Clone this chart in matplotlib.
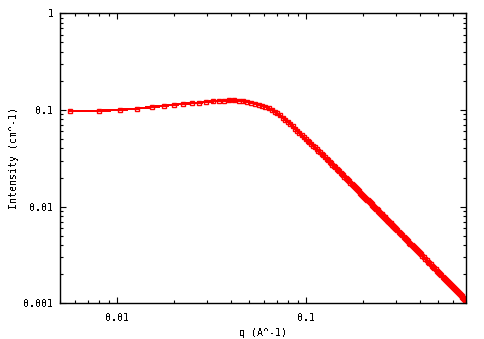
import matplotlib
matplotlib.use("Agg")
import matplotlib.pyplot as plt
from matplotlib.ticker import LogLocator, FuncFormatter, NullFormatter

# scattering curve (q in A^-1, intensity in cm^-1)
q = [
    0.0056, 0.0080, 0.0104, 0.0128, 0.0152, 0.0176, 0.0200, 0.0224, 0.0248, 0.0272,
    0.0296, 0.0320, 0.0344, 0.0368, 0.0392, 0.0416, 0.0440, 0.0464, 0.0488, 0.0512,
    0.0536, 0.0560, 0.0584, 0.0608, 0.0632, 0.0656, 0.0680, 0.0704, 0.0728, 0.0752,
    0.0776, 0.0800, 0.0824, 0.0848, 0.0872, 0.0896, 0.0920, 0.0944, 0.0968, 0.0992,
    0.1016, 0.1040, 0.1064, 0.1088, 0.1112, 0.1136, 0.1160, 0.1184, 0.1208, 0.1232,
    0.1256, 0.1280, 0.1304, 0.1328, 0.1352, 0.1376, 0.1400, 0.1424, 0.1448, 0.1472,
    0.1496, 0.1520, 0.1544, 0.1568, 0.1592, 0.1616, 0.1640, 0.1664, 0.1688, 0.1712,
    0.1736, 0.1760, 0.1784, 0.1808, 0.1832, 0.1856, 0.1880, 0.1904, 0.1928, 0.1952,
    0.1976, 0.2000, 0.2024, 0.2048, 0.2072, 0.2096, 0.2120, 0.2144, 0.2168, 0.2192,
    0.2216, 0.2240, 0.2264, 0.2288, 0.2312, 0.2336, 0.2360, 0.2384, 0.2408, 0.2432,
    0.2456, 0.2480, 0.2504, 0.2528, 0.2552, 0.2576, 0.2600, 0.2624, 0.2648, 0.2672,
    0.2696, 0.2720, 0.2744, 0.2768, 0.2792, 0.2816, 0.2840, 0.2864, 0.2888, 0.2912,
    0.2936, 0.2960, 0.2984,
    0.3032, 0.3080, 0.3128, 0.3176, 0.3224, 0.3272, 0.3320, 0.3368, 0.3416, 0.3464,
    0.3512, 0.3560, 0.3608, 0.3656, 0.3704, 0.3752, 0.3800, 0.3848, 0.3896, 0.3944,
    0.3992, 0.4040,
    0.4112, 0.4184, 0.4256, 0.4328, 0.4400, 0.4472, 0.4544, 0.4616, 0.4688, 0.4760,
    0.4832, 0.4904, 0.4976, 0.5048, 0.5120, 0.5192, 0.5264, 0.5336, 0.5408, 0.5480,
    0.5552, 0.5624, 0.5696, 0.5768, 0.5840, 0.5912, 0.5984, 0.6056, 0.6128, 0.6200,
    0.6272, 0.6344, 0.6416, 0.6488, 0.6560, 0.6632, 0.6704, 0.6776, 0.6848, 0.6920,
    0.6992,
]
intensity = [
    0.0975, 0.0978, 0.1003, 0.1035, 0.1070, 0.1104, 0.1132, 0.1157, 0.1175, 0.1190,
    0.1208, 0.1228, 0.1240, 0.1250, 0.1255, 0.1253, 0.1244, 0.1230, 0.1210, 0.1187,
    0.1157, 0.1130, 0.1104, 0.1073, 0.1040, 0.1002, 0.0962, 0.0920, 0.0877, 0.0834,
    0.0792, 0.0752, 0.0712, 0.0675, 0.0640, 0.0608, 0.0579, 0.0552, 0.0526, 0.0503,
    0.0482, 0.0462, 0.0443, 0.0426, 0.0409, 0.0394, 0.0379, 0.0365, 0.03522, 0.03389,
    0.03263, 0.03144, 0.03031, 0.02924, 0.02823, 0.02727, 0.02635, 0.02548, 0.02466, 0.02387,
    0.02312, 0.02241, 0.02172, 0.02107, 0.02045, 0.01985, 0.01928, 0.01873, 0.01821, 0.01771,
    0.01723, 0.01676, 0.01632, 0.01589, 0.01548, 0.01509, 0.01471, 0.01434, 0.01399, 0.01365,
    0.01332, 0.01301, 0.01270, 0.01241, 0.01213, 0.01185, 0.01159, 0.01133, 0.01108, 0.01084,
    0.01061, 0.01039, 0.01017, 0.00996, 0.00975, 0.00955, 0.00936, 0.00917, 0.00899, 0.00882,
    0.00865, 0.00848, 0.00832, 0.00816, 0.00801, 0.00786, 0.00772, 0.00758, 0.00744, 0.00731,
    0.00718, 0.00706, 0.00693, 0.00681, 0.00670, 0.00658, 0.00647, 0.00637, 0.00626, 0.00616,
    0.00606, 0.00596, 0.00587,
    0.00568, 0.00551, 0.00534, 0.00518, 0.00503, 0.00488, 0.00474, 0.00461, 0.00448, 0.00436,
    0.00424, 0.00413, 0.00402, 0.00391, 0.00381, 0.00371, 0.00362, 0.00353, 0.00345, 0.00336,
    0.00328, 0.00320,
    0.00309, 0.00299, 0.00289, 0.00279, 0.00270, 0.00262, 0.00253, 0.00246, 0.00238, 0.00231,
    0.00224, 0.00218, 0.00211, 0.00205, 0.00200, 0.00194, 0.00189, 0.00184, 0.00179, 0.00174,
    0.00170, 0.00165, 0.00161, 0.00157, 0.00153, 0.00150, 0.00146, 0.00143, 0.00139, 0.00136,
    0.00133, 0.00130, 0.00127, 0.00124, 0.00122, 0.00119, 0.00116, 0.00114, 0.00111, 0.00109,
    0.00107,
]

x_range = (0.005, 0.7)
y_range = (0.001, 1)
x_label = "q (A^-1)"
y_label = "Intensity (cm^-1)"

plt.rcParams["font.family"] = ["DejaVu Sans Mono"]
plt.rcParams["font.size"] = 7.2
plt.rcParams["text.antialiased"] = False

fig = plt.figure(figsize=(4.84, 3.39), dpi=100)
ax = fig.add_axes([0.1246, 0.1053, 0.8382, 0.8555])

ax.plot(q, intensity, color="red", lw=1.0, marker="s", ms=3.4,
        mfc="none", mec="red", mew=1.0, antialiased=False)

ax.set_xscale("log")
ax.set_yscale("log")
ax.set_xlim(*x_range)
ax.set_ylim(*y_range)

fmt = FuncFormatter(lambda v, _: f"{v:g}")
for axis in (ax.xaxis, ax.yaxis):
    axis.set_major_locator(LogLocator(base=10))
    axis.set_minor_locator(LogLocator(base=10, subs=range(2, 10)))
    axis.set_major_formatter(fmt)
    axis.set_minor_formatter(NullFormatter())

ax.tick_params(which="both", direction="in", top=True, right=True, width=0.8,
               colors="black")
ax.tick_params(which="major", length=4.5, pad=5)
ax.tick_params(axis="x", which="major", pad=7)
ax.tick_params(which="minor", length=2.5)
for s in ax.spines.values():
    s.set_linewidth(1.0)

ax.set_xlabel(x_label)
ax.set_ylabel(y_label)
ax.xaxis.set_label_coords(0.5, -0.086)
ax.yaxis.set_label_coords(-0.102, 0.5)

fig.savefig("out.png", dpi=100)
